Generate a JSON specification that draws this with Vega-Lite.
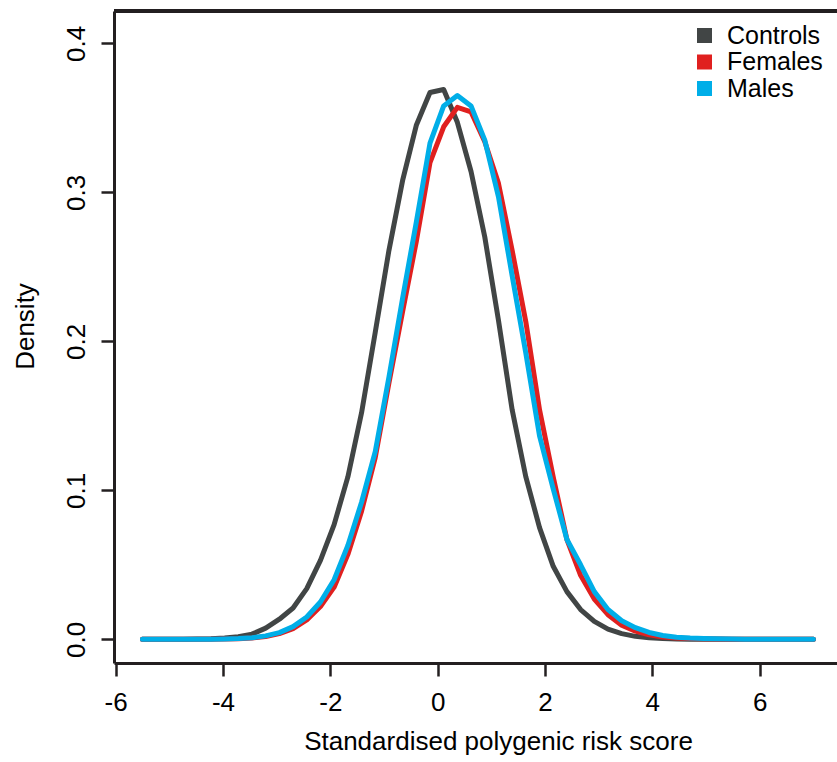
{
"$schema": "https://vega.github.io/schema/vega-lite/v6.json",
"width": 723,
"height": 652,
"autosize": {"type": "none"},
"padding": {"left": 114, "top": 11, "right": 0, "bottom": 99},
"background": "white",
"config": {"view": {"stroke": null}, "font": "Liberation Sans"},
"datasets": {
"rows": [
{"g":"Controls","x":-5.5,"d":0},{"g":"Controls","x":-5.245,"d":0},{"g":"Controls","x":-4.99,"d":0},{"g":"Controls","x":-4.735,"d":0.0001},{"g":"Controls","x":-4.48,"d":0.0002},{"g":"Controls","x":-4.224,"d":0.0004},{"g":"Controls","x":-3.969,"d":0.0009},{"g":"Controls","x":-3.714,"d":0.0018},{"g":"Controls","x":-3.459,"d":0.0035},{"g":"Controls","x":-3.204,"d":0.0075},{"g":"Controls","x":-2.949,"d":0.0135},{"g":"Controls","x":-2.694,"d":0.021},{"g":"Controls","x":-2.439,"d":0.034},{"g":"Controls","x":-2.184,"d":0.053},{"g":"Controls","x":-1.929,"d":0.077},{"g":"Controls","x":-1.673,"d":0.109},{"g":"Controls","x":-1.418,"d":0.152},{"g":"Controls","x":-1.163,"d":0.206},{"g":"Controls","x":-0.908,"d":0.261},{"g":"Controls","x":-0.653,"d":0.308},{"g":"Controls","x":-0.398,"d":0.345},{"g":"Controls","x":-0.143,"d":0.367},{"g":"Controls","x":0.112,"d":0.369},{"g":"Controls","x":0.367,"d":0.347},{"g":"Controls","x":0.622,"d":0.314},{"g":"Controls","x":0.878,"d":0.27},{"g":"Controls","x":1.133,"d":0.214},{"g":"Controls","x":1.388,"d":0.154},{"g":"Controls","x":1.643,"d":0.109},{"g":"Controls","x":1.898,"d":0.075},{"g":"Controls","x":2.153,"d":0.049},{"g":"Controls","x":2.408,"d":0.032},{"g":"Controls","x":2.663,"d":0.02},{"g":"Controls","x":2.918,"d":0.012},{"g":"Controls","x":3.173,"d":0.0068},{"g":"Controls","x":3.429,"d":0.0038},{"g":"Controls","x":3.684,"d":0.002},{"g":"Controls","x":3.939,"d":0.001},{"g":"Controls","x":4.194,"d":0.0005},{"g":"Controls","x":4.449,"d":0.0002},{"g":"Controls","x":4.704,"d":0.0001},{"g":"Controls","x":4.959,"d":0},{"g":"Controls","x":5.214,"d":0},{"g":"Controls","x":5.469,"d":0},{"g":"Controls","x":5.724,"d":0},{"g":"Controls","x":5.98,"d":0},{"g":"Controls","x":6.235,"d":0},{"g":"Controls","x":6.49,"d":0},{"g":"Controls","x":6.745,"d":0},{"g":"Controls","x":7.0,"d":0},
{"g":"Females","x":-5.5,"d":0},{"g":"Females","x":-5.245,"d":0},{"g":"Females","x":-4.99,"d":0},{"g":"Females","x":-4.735,"d":0},{"g":"Females","x":-4.48,"d":0},{"g":"Females","x":-4.224,"d":0.0001},{"g":"Females","x":-3.969,"d":0.0002},{"g":"Females","x":-3.714,"d":0.0004},{"g":"Females","x":-3.459,"d":0.0009},{"g":"Females","x":-3.204,"d":0.0019},{"g":"Females","x":-2.949,"d":0.0038},{"g":"Females","x":-2.694,"d":0.0072},{"g":"Females","x":-2.439,"d":0.013},{"g":"Females","x":-2.184,"d":0.022},{"g":"Females","x":-1.929,"d":0.035},{"g":"Females","x":-1.673,"d":0.057},{"g":"Females","x":-1.418,"d":0.086},{"g":"Females","x":-1.163,"d":0.122},{"g":"Females","x":-0.908,"d":0.172},{"g":"Females","x":-0.653,"d":0.22},{"g":"Females","x":-0.398,"d":0.267},{"g":"Females","x":-0.143,"d":0.32},{"g":"Females","x":0.112,"d":0.344},{"g":"Females","x":0.367,"d":0.357},{"g":"Females","x":0.622,"d":0.354},{"g":"Females","x":0.878,"d":0.334},{"g":"Females","x":1.133,"d":0.306},{"g":"Females","x":1.388,"d":0.261},{"g":"Females","x":1.643,"d":0.213},{"g":"Females","x":1.898,"d":0.154},{"g":"Females","x":2.153,"d":0.109},{"g":"Females","x":2.408,"d":0.067},{"g":"Females","x":2.663,"d":0.043},{"g":"Females","x":2.918,"d":0.027},{"g":"Females","x":3.173,"d":0.0165},{"g":"Females","x":3.429,"d":0.0095},{"g":"Females","x":3.684,"d":0.0055},{"g":"Females","x":3.939,"d":0.003},{"g":"Females","x":4.194,"d":0.0016},{"g":"Females","x":4.449,"d":0.0009},{"g":"Females","x":4.704,"d":0.0005},{"g":"Females","x":4.959,"d":0.0003},{"g":"Females","x":5.214,"d":0.0002},{"g":"Females","x":5.469,"d":0.0001},{"g":"Females","x":5.724,"d":0.0001},{"g":"Females","x":5.98,"d":0},{"g":"Females","x":6.235,"d":0},{"g":"Females","x":6.49,"d":0},{"g":"Females","x":6.745,"d":0},{"g":"Females","x":7.0,"d":0},
{"g":"Males","x":-5.5,"d":0},{"g":"Males","x":-5.245,"d":0},{"g":"Males","x":-4.99,"d":0},{"g":"Males","x":-4.735,"d":0},{"g":"Males","x":-4.48,"d":0},{"g":"Males","x":-4.224,"d":0.0001},{"g":"Males","x":-3.969,"d":0.0002},{"g":"Males","x":-3.714,"d":0.0005},{"g":"Males","x":-3.459,"d":0.0011},{"g":"Males","x":-3.204,"d":0.0023},{"g":"Males","x":-2.949,"d":0.0045},{"g":"Males","x":-2.694,"d":0.0085},{"g":"Males","x":-2.439,"d":0.015},{"g":"Males","x":-2.184,"d":0.025},{"g":"Males","x":-1.929,"d":0.04},{"g":"Males","x":-1.673,"d":0.063},{"g":"Males","x":-1.418,"d":0.092},{"g":"Males","x":-1.163,"d":0.126},{"g":"Males","x":-0.908,"d":0.176},{"g":"Males","x":-0.653,"d":0.229},{"g":"Males","x":-0.398,"d":0.28},{"g":"Males","x":-0.143,"d":0.333},{"g":"Males","x":0.112,"d":0.358},{"g":"Males","x":0.367,"d":0.365},{"g":"Males","x":0.622,"d":0.358},{"g":"Males","x":0.878,"d":0.335},{"g":"Males","x":1.133,"d":0.297},{"g":"Males","x":1.388,"d":0.244},{"g":"Males","x":1.643,"d":0.192},{"g":"Males","x":1.898,"d":0.1365},{"g":"Males","x":2.153,"d":0.101},{"g":"Males","x":2.408,"d":0.067},{"g":"Males","x":2.663,"d":0.05},{"g":"Males","x":2.918,"d":0.032},{"g":"Males","x":3.173,"d":0.02},{"g":"Males","x":3.429,"d":0.0125},{"g":"Males","x":3.684,"d":0.0078},{"g":"Males","x":3.939,"d":0.0046},{"g":"Males","x":4.194,"d":0.0026},{"g":"Males","x":4.449,"d":0.0014},{"g":"Males","x":4.704,"d":0.0008},{"g":"Males","x":4.959,"d":0.0005},{"g":"Males","x":5.214,"d":0.0003},{"g":"Males","x":5.469,"d":0.0002},{"g":"Males","x":5.724,"d":0.0001},{"g":"Males","x":5.98,"d":0.0001},{"g":"Males","x":6.235,"d":0},{"g":"Males","x":6.49,"d":0},{"g":"Males","x":6.745,"d":0},{"g":"Males","x":7.0,"d":0}
]
},
"data": {"name": "rows"},
"layer": [
{
"mark": {"type": "line", "strokeWidth": 5, "strokeCap": "round", "strokeJoin": "round", "clip": true},
"encoding": {
"x": {"field": "x", "type": "quantitative",
"scale": {"domain": [-6.03, 7.44], "nice": false, "zero": false},
"axis": {"values": [-6, -4, -2, 0, 2, 4, 6], "labelExpr": "'' + datum.value", "grid": false,
"labelFontSize": 26, "labelColor": "#000", "labelPadding": 13, "labelFlush": false, "labelOverlap": false,
"tickSize": 13, "tickWidth": 2.5, "tickColor": "#231f20", "domainColor": "#231f20", "domainWidth": 3,
"title": "Standardised polygenic risk score", "titleFontSize": 26, "titleFontWeight": "normal", "titleColor": "#000",
"titleX": 384, "titleY": 86, "titleAlign": "center", "titleBaseline": "alphabetic"}},
"y": {"field": "d", "type": "quantitative",
"scale": {"domain": [-0.0159, 0.4217], "nice": false, "zero": false},
"axis": {"values": [0, 0.1, 0.2, 0.3, 0.4], "format": ".1f", "grid": false,
"labelAngle": 270, "labelAlign": "center", "labelBaseline": "alphabetic",
"labelFontSize": 26, "labelColor": "#000", "labelPadding": 17, "labelFlush": false, "labelOverlap": false,
"tickSize": 13, "tickWidth": 2.5, "tickColor": "#231f20", "domainColor": "#231f20", "domainWidth": 3,
"title": "Density", "titleFontSize": 26, "titleFontWeight": "normal", "titleColor": "#000",
"titleAngle": 270, "titleX": -81, "titleY": 315, "titleAlign": "center", "titleBaseline": "alphabetic"}},
"color": {"field": "g", "type": "nominal",
"scale": {"domain": ["Controls", "Females", "Males"], "range": ["#414545", "#e0201f", "#00aee8"]},
"legend": {"orient": "none", "legendX": 578, "legendY": 12, "title": null, "padding": 0,
"labelFontSize": 25, "labelColor": "#000", "labelOffset": 10, "labelLimit": 300, "rowPadding": 0.5,
"symbolType": "square", "symbolSize": 225, "symbolStrokeWidth": 0,
"encode": {"symbols": {"update": {"fill": {"scale": "color", "field": "value"}, "fillOpacity": {"value": 1}, "strokeWidth": {"value": 0}}}}}}
}
},
{
"mark": {"type": "rule", "strokeWidth": 3, "color": "#231f20"},
"encoding": {"y": {"datum": 0.4217}}
}
]
}
